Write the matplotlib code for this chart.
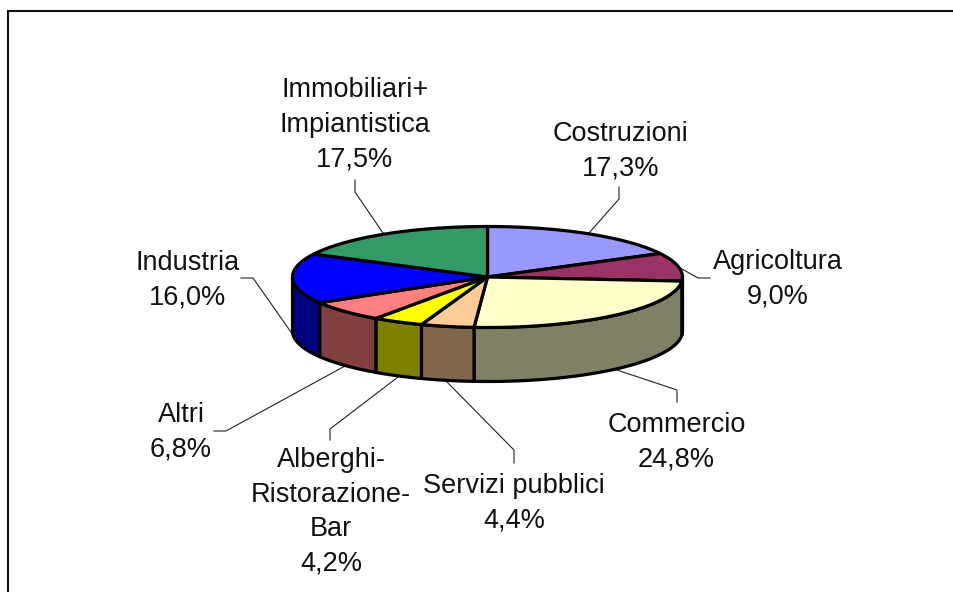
import numpy as np
import matplotlib
matplotlib.use('Agg')
import matplotlib.pyplot as plt
from matplotlib.patches import Polygon
from matplotlib.colors import to_rgb

names = ['Costruzioni', 'Agricoltura', 'Commercio', 'Servizi pubblici',
         'Alberghi-\nRistorazione-\nBar', 'Altri', 'Industria',
         'Immobiliari+\nImpiantistica']
values = [17.3, 9.0, 24.8, 4.4, 4.2, 6.8, 16.0, 17.5]
colors = ['#9999FF', '#993366', '#FFFFCC', '#FFCC99',
          '#FFFF00', '#FF8080', '#0000FF', '#339966']

# label centres in pixels
label_x = [620.5, 778, 676.5, 514, 331, 181, 187.5, 355]
label_y = [151, 279, 442, 503, 512, 432, 280, 125]

# leader lines in pixels, pie edge -> elbow -> label
leaders = [
    [(589, 233), (619, 199), (619, 187)],
    [(682, 269), (698, 278), (710, 278)],
    [(617, 370), (677, 390), (677, 402)],
    [(447, 382), (514, 450), (514, 463)],
    [(398, 377), (330, 429), (330, 440)],
    [(345, 366), (226, 431), (214, 431)],
    [(293, 335), (253, 278), (241, 278)],
    [(383, 233), (355, 192), (355, 180)],
]

cx, cy = 487.5, 277
rx, ry = 195, 50.5
depth = 54
lw = 2.3


def arc(t0, t1, dy=0):
    t = np.radians(np.linspace(t0, t1, max(int(abs(t1 - t0)) * 2, 2)))
    return np.column_stack([cx + rx * np.sin(t), cy + dy - ry * np.cos(t)])


fig = plt.figure(figsize=(9.54, 5.92), dpi=100)
ax = fig.add_axes([0, 0, 1, 1])
ax.set_xlim(0, 954)
ax.set_ylim(592, 0)
ax.axis('off')

# frame, only top and left are in the picture
ax.plot([8.5, 8.5, 954], [592, 10.5, 10.5], color='#111111', lw=1.5,
        solid_joinstyle='miter', zorder=1)

for pts in leaders:
    xs, ys = zip(*pts)
    ax.plot(xs, ys, color='#222222', lw=0.8, zorder=2)

edges = np.cumsum([0] + values) / sum(values) * 360

# walls of the visible front half
for i, c in enumerate(colors):
    t0, t1 = max(edges[i], 90), min(edges[i + 1], 270)
    if t1 <= t0:
        continue
    side = np.array(to_rgb(c)) * 0.5
    wall = np.vstack([arc(t0, t1), arc(t0, t1, depth)[::-1]])
    ax.add_patch(Polygon(wall, closed=True, facecolor=side, edgecolor='black',
                         lw=lw, joinstyle='round', zorder=3))

# top face
for i, c in enumerate(colors):
    top = np.vstack([[cx, cy], arc(edges[i], edges[i + 1])])
    ax.add_patch(Polygon(top, closed=True, facecolor=c, edgecolor='black',
                         lw=lw, joinstyle='round', zorder=4))

for n, v, x, y in zip(names, values, label_x, label_y):
    pct = f'{v:.1f}%'.replace('.', ',')
    ax.text(x, y, n + '\n' + pct, ha='center', va='center', ma='center',
            fontsize=19.5, family='Liberation Sans', color='#111111',
            linespacing=1.43, zorder=5)

fig.savefig('out.png', dpi=100)
